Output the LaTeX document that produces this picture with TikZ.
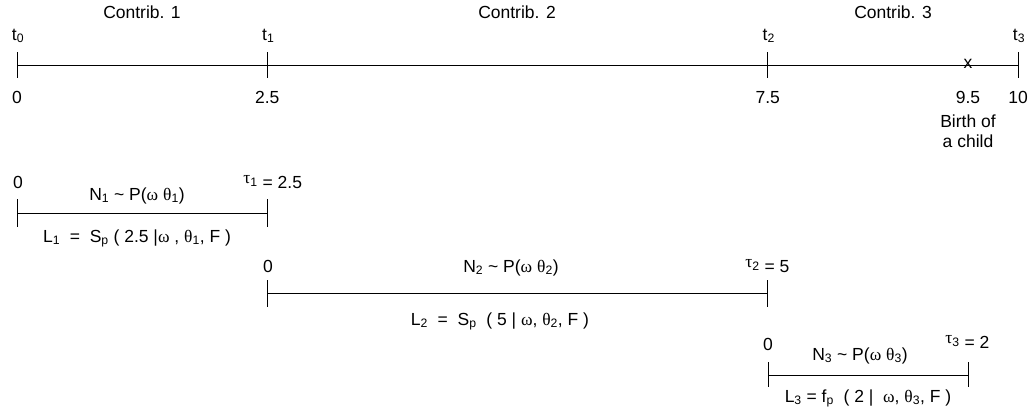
\documentclass[tikz,border=0pt]{standalone}
\usepackage{fontspec}
\setmainfont{Liberation Sans}
\newfontfamily\grk{Liberation Serif}
\usetikzlibrary{positioning}

\newcommand{\om}{{\grk ω}}
\newcommand{\thet}[1]{{\grk θ}\textsubscript{#1}}
\newcommand{\ta}[1]{\raisebox{0.45ex}{{\grk τ}\textsubscript{#1}}}

\begin{document}
\begin{tikzpicture}[x=1pt,y=-1pt,line width=0.9pt,
    txt/.style={inner sep=0pt,anchor=base,font=\fontsize{17.5}{20}\selectfont},
    lft/.style={txt,anchor=base west}]
  \useasboundingbox (0,0) rectangle (1034,410);
  % time axis
  \coordinate (ax0) at (17,65);
  \coordinate (ax1) at (1018,65);
  \draw (ax0) -- (ax1);
  \foreach \v/\n in {0/0,2.5/1,7.5/2,10/3} {
    \draw ({17+100.1*\v},52) -- ({17+100.1*\v},78);
    \node[txt] (t\n) at ({18+100.1*\v},40) {t\textsubscript{\n}};
  }
  \foreach \v/\n in {0/a,2.5/b,7.5/c,9.5/d,10/e}
    \node[txt] (v\n) at ({17+100.1*\v},103) {\v};
  \node[txt] (c1) at (142,18) {Contrib. 1};
  \node[txt] (c2) at (517,18) {Contrib. 2};
  \node[txt] (c3) at (893,18) {Contrib. 3};
  \node[txt] (birth) at (968,68) {x};
  \node[txt,align=center] (child) at (968,147) {Birth of\\a child};

  % contribution 1
  \draw (17,213) -- (267,213);
  \draw (17,199) -- (17,227);
  \draw (267,199) -- (267,227);
  \node[txt] (z1) at (18,188) {0};
  \node[txt] (n1) at (137,200) {N\textsubscript{1} \textasciitilde{} P(\om{} \thet{1})};
  \node[lft] (tau1) at (243,188) {\ta{1} = 2.5};
  \node[txt] (l1) at (137,242) {L\textsubscript{1} \ = \ S\textsubscript{p} ( 2.5 |\om{} , \thet{1}, F )};

  % contribution 2
  \draw (267,293) -- (767,293);
  \draw (267,280) -- (267,307);
  \draw (767,280) -- (767,307);
  \node[txt] (z2) at (268,272) {0};
  \node[txt] (n2) at (511,272) {N\textsubscript{2} \textasciitilde{} P(\om{} \thet{2})};
  \node[lft] (tau2) at (745,272) {\ta{2} = 5};
  \node[txt] (l2) at (500,325) {L\textsubscript{2} \ = \ S\textsubscript{p} \ ( 5 | \om, \thet{2}, F )};

  % contribution 3
  \draw (768,375) -- (968,375);
  \draw (768,362) -- (768,387);
  \draw (968,362) -- (968,387);
  \node[txt] (z3) at (768,350) {0};
  \node[txt] (n3) at (860,360) {N\textsubscript{3} \textasciitilde{} P(\om{} \thet{3})};
  \node[lft] (tau3) at (945,348) {\ta{3} = 2};
  \node[txt] (l3) at (868,402) {L\textsubscript{3} = f\textsubscript{p} \ ( 2 | \ \om, \thet{3}, F )};
\end{tikzpicture}
\end{document}
